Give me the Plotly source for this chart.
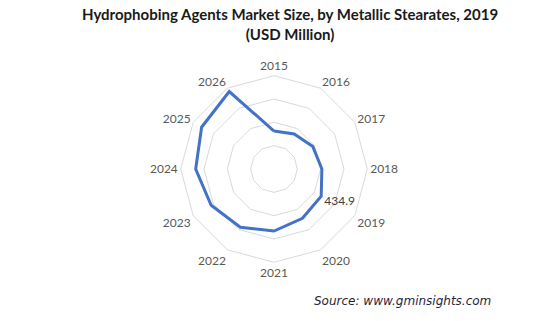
import plotly.graph_objects as go

years = ["2015", "2016", "2017", "2018", "2019", "2020", "2021", "2022", "2023", "2024", "2025", "2026"]
values = [303, 322, 358, 382, 434.9, 454, 495, 537, 579, 625, 667, 714]
label_year = "2019"
label_value = 434.9
title_text = "<b>Hydrophobing Agents Market Size, by Metallic Stearates, 2019<br>(USD Million)</b>"
source_text = "<i>Source: www.gminsights.com</i>"

W, H = 546, 321
cx, cy, R = 274, 169, 93.3
rmax = 744.5

fig = go.Figure()
fig.add_trace(go.Scatterpolar(
    r=values + [values[0]], theta=years + [years[0]],
    mode="lines", line=dict(color="#4472C4", width=3),
    hoverinfo="skip", showlegend=False,
))
fig.add_trace(go.Scatterpolar(
    r=[label_value], theta=[label_year], mode="text",
    text=["\u00a0" + f"{label_value:.1f}"], textposition="bottom right",
    textfont=dict(family="Lato, Calibri, sans-serif", size=12, color="#404040"),
    hoverinfo="skip", showlegend=False,
))

fig.update_layout(
    width=W, height=H,
    margin=dict(l=0, r=0, t=0, b=0),
    paper_bgcolor="white", plot_bgcolor="white",
    polar=dict(
        domain=dict(x=[(cx - R) / W, (cx + R) / W], y=[(H - cy - R) / H, (H - cy + R) / H]),
        bgcolor="white",
        gridshape="linear",
        angularaxis=dict(
            direction="clockwise", rotation=90,
            categoryorder="array", categoryarray=years,
            showline=True, linecolor="#D9D9D9", linewidth=1,
            showgrid=False,
            ticks="",
            tickfont=dict(family="Lato, Calibri, sans-serif", size=12, color="#595959"),
        ),
        radialaxis=dict(
            range=[0, rmax],
            tickvals=[rmax / 4, rmax / 2, 3 * rmax / 4],
            showticklabels=False, ticks="", showline=False,
            showgrid=True, gridcolor="#D9D9D9", gridwidth=1,
        ),
    ),
    annotations=[
        dict(text=title_text, x=290 / W, y=1 - 3 / H, xref="paper", yref="paper",
             xanchor="center", yanchor="top", showarrow=False,
             font=dict(family="Lato, Calibri, sans-serif", size=15, color="#1a1a1a")),
        dict(text=source_text, x=493 / W, y=1 - 301 / H, xref="paper", yref="paper",
             xanchor="right", yanchor="middle", showarrow=False,
             font=dict(family="DejaVu Sans, Verdana, sans-serif", size=12, color="#1f1f3a")),
    ],
)

fig.write_html("out.html")
